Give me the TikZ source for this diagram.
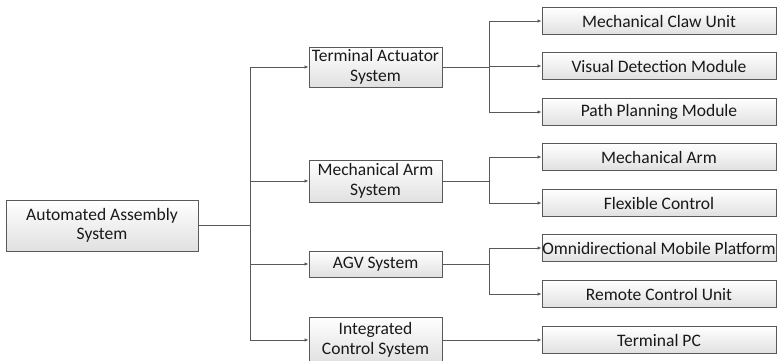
\documentclass[tikz,border=0pt]{standalone}
\usepackage{fontspec}
\setmainfont{Carlito}
\usetikzlibrary{arrows.meta,shadings}
\begin{document}
\begin{tikzpicture}[x=1pt,y=-1pt,
  box/.style={draw=black!65, line width=0.9pt, top color=white, bottom color=black!12,
    align=center, inner sep=0pt, font=\fontsize{17.5}{19.5}\selectfont, text=black!90},
  rootbox/.style={box, minimum width=192pt, minimum height=51pt},
  midbox/.style={box, minimum width=133pt},
  leafbox/.style={box, minimum width=234pt, minimum height=27pt},
  conn/.style={draw=black!65, line width=0.9pt},
  arr/.style={conn, -{Latex[length=4pt,width=3.5pt]}}]
\useasboundingbox (0,0) rectangle (777,361);
\node[rootbox] (root) at (102,225.5) {Automated Assembly\\System};
\node[midbox, minimum height=40pt] (ta) at (375.5,67) {Terminal Actuator\\System};
\node[midbox, minimum height=42pt] (ma) at (375.5,181) {Mechanical Arm\\System};
\node[midbox, minimum height=26pt] (agv) at (375.5,264) {AGV System};
\node[midbox, minimum height=46pt] (ic) at (375.5,340) {Integrated\\Control System};
\node[leafbox] (claw) at (659,21) {Mechanical Claw Unit};
\node[leafbox] (vis) at (659,66) {Visual Detection Module};
\node[leafbox] (path) at (659,112) {Path Planning Module};
\node[leafbox] (arm) at (659,157) {Mechanical Arm};
\node[leafbox] (flex) at (659,203) {Flexible Control};
\node[leafbox] (omni) at (659,248) {Omnidirectional Mobile Platform};
\node[leafbox] (rcu) at (659,294) {Remote Control Unit};
\node[leafbox] (tpc) at (659,340) {Terminal PC};
\coordinate (trunk) at (250,225.5);
\coordinate (b1) at (489,67);
\coordinate (b2) at (489,181);
\coordinate (b3) at (489,264);
\draw[conn] (root.east) -- (trunk);
\draw[arr] (trunk) |- (ta.west);
\draw[arr] (trunk) |- (ma.west);
\draw[arr] (trunk) |- (agv.west);
\draw[arr] (trunk) |- (ic.west);
\draw[conn] (ta.east) -- (b1);
\draw[arr] (b1) |- (claw.west);
\draw[arr] (b1) |- (vis.west);
\draw[arr] (b1) |- (path.west);
\draw[conn] (ma.east) -- (b2);
\draw[arr] (b2) |- (arm.west);
\draw[arr] (b2) |- (flex.west);
\draw[conn] (agv.east) -- (b3);
\draw[arr] (b3) |- (omni.west);
\draw[arr] (b3) |- (rcu.west);
\draw[arr] (ic.east) -- (tpc.west);
\end{tikzpicture}
\end{document}
